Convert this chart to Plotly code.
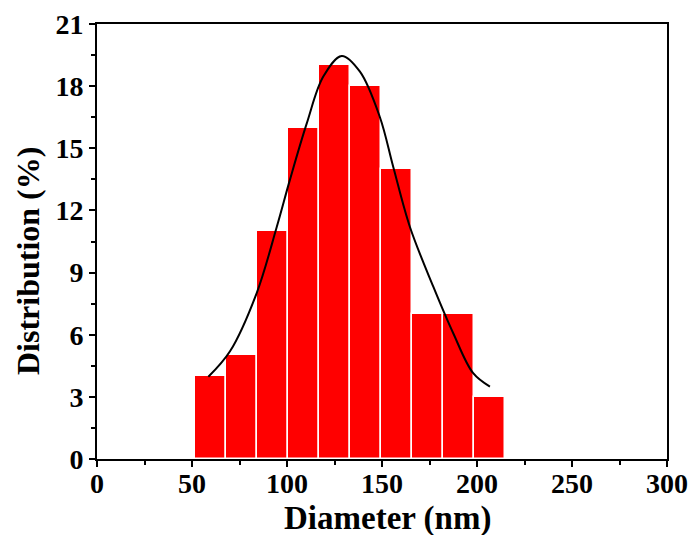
import plotly.graph_objects as go

# Histogram bins (centers in nm) and distribution (%)
bin_centers = [59.7, 76.0, 92.3, 108.6, 124.9, 141.2, 157.5, 173.8, 190.1, 206.4]
bin_width = 16.3
distribution = [4, 5, 11, 16, 19, 18, 14, 7, 7, 3]

# Fitted curve, points
fit_x = [58.6, 70.0, 84.0, 94.6, 101.6, 110.4, 119.1, 128.8, 138.4, 148.9, 156.0, 164.7, 177.0, 187.5, 198.0, 206.8]
fit_y = [3.97, 5.2, 8.0, 11.2, 13.5, 16.2, 18.46, 19.46, 18.7, 16.5, 14.07, 11.2, 8.32, 6.07, 4.14, 3.49]

x_ticks = [0, 50, 100, 150, 200, 250, 300]
y_ticks = [0, 3, 6, 9, 12, 15, 18, 21]

x_title = "Diameter (nm)"
y_title = "Distribution (%)"

font_family = "Liberation Serif"
tick_font = dict(family=font_family, size=28, color="black", weight="bold")

fig = go.Figure()
fig.add_trace(go.Bar(
    x=bin_centers, y=distribution, width=[bin_width] * len(bin_centers),
    marker=dict(color="#FF0000", line=dict(color="white", width=1.5)),
    showlegend=False,
))
fig.add_trace(go.Scatter(
    x=fit_x, y=fit_y, mode="lines", line=dict(color="black", width=2, shape="spline", smoothing=1.0),
    showlegend=False,
))
# empty trace so the label-only overlay axis is drawn
fig.add_trace(go.Scatter(x=[None], y=[None], xaxis="x2", showlegend=False, hoverinfo="skip"))

fig.update_layout(
    width=692, height=535,
    margin=dict(l=97, r=25, t=24, b=76),
    paper_bgcolor="white", plot_bgcolor="white",
    bargap=0,
    font=dict(family=font_family, color="black"),
    xaxis=dict(
        range=[0, 300], tickvals=x_ticks, showticklabels=False,
        showgrid=False, zeroline=False, showline=True, linecolor="black", linewidth=2,
        mirror=True, ticks="outside", tickcolor="black", tickwidth=2, ticklen=6,
        minor=dict(ticks="outside", ticklen=4, tickwidth=2, tickcolor="black", dtick=25),
        automargin=False,
    ),
    xaxis2=dict(
        range=[0, 300], tickvals=x_ticks, overlaying="x", anchor="y", side="bottom",
        showgrid=False, zeroline=False, showline=False, ticks="", ticklabelstandoff=5,
        tickfont=tick_font, automargin=False,
    ),
    yaxis=dict(
        range=[0, 21], tickvals=y_ticks,
        showgrid=False, zeroline=False, showline=True, linecolor="black", linewidth=2,
        mirror=True, ticks="outside", tickcolor="black", tickwidth=2, ticklen=6,
        tickfont=tick_font,
        minor=dict(ticks="outside", ticklen=4, tickwidth=2, tickcolor="black", dtick=1.5),
        automargin=False,
    ),
    annotations=[
        dict(text=x_title, xref="paper", yref="paper", x=0.509, y=0, yshift=-59,
             xanchor="center", yanchor="middle", showarrow=False,
             font=dict(family=font_family, size=33, color="black", weight="bold")),
        dict(text=y_title, xref="paper", yref="paper", x=0, xshift=-69, y=0.455,
             xanchor="center", yanchor="middle", textangle=-90, showarrow=False,
             font=dict(family=font_family, size=32, color="black", weight="bold")),
    ],
)

# remove the default page margin so the figure fills the window exactly
fig.write_html(
    "out.html",
    config={"displayModeBar": False},
    post_script="document.body.style.margin='0';document.body.style.overflow='hidden';",
)
